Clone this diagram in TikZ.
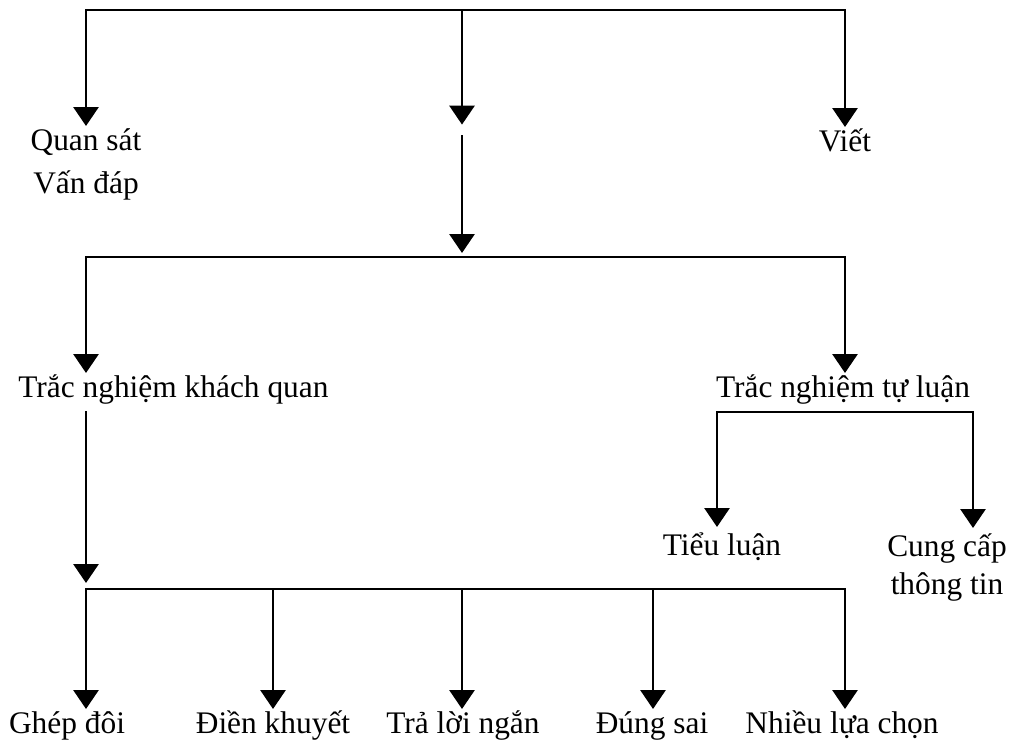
\documentclass[tikz,border=0pt]{standalone}
\usepackage{fontspec}
\setmainfont{Liberation Serif}
\usetikzlibrary{arrows.meta,positioning}

\begin{document}
\begin{tikzpicture}[
    x=0.5pt, y=-0.5pt,
    bar/.style={line width=1.45pt, line cap=rect},
    arrow/.style={line width=1.45pt, -{Triangle[width=12.5pt,length=9.5pt]}},
    lbl/.style={font=\fontsize{15.7pt}{20pt}\selectfont, inner sep=0pt, anchor=base, text height=11.8pt, text depth=7pt}
]
    \useasboundingbox (0,0) rectangle (1011,740);

    % Junctions
    \coordinate (t1) at (86,10);
    \coordinate (t2) at (462,10);
    \coordinate (t3) at (845,10);
    \coordinate (m1) at (86,257);
    \coordinate (m2) at (462,257);
    \coordinate (m3) at (845,257);
    \coordinate (r1) at (717,412);
    \coordinate (r2) at (973,412);
    \coordinate (b1) at (86,589);
    \coordinate (b2) at (273,589);
    \coordinate (b3) at (462,589);
    \coordinate (b4) at (653,589);
    \coordinate (b5) at (845,589);

    % First level
    \node[lbl] (quansat) at (86,150) {Quan sát};
    \node[lbl] (vandap) at (86,193) {Vấn đáp};
    \node[inner sep=0pt, minimum height=5pt, minimum width=0pt] (mid) at (462,130) {};
    \node[lbl] (viet) at (845,151) {Viết};

    % Second level
    \node[lbl, anchor=base west] (khach) at (18,397) {Trắc nghiệm khách quan};
    \node[lbl] (tuluan) at (843,397) {Trắc nghiệm tự luận};
    \node[lbl] (tieuluan) at (722,555) {Tiểu luận};
    \node[lbl] (cungcap) at (947,556) {Cung cấp};
    \node[lbl] (thongtin) at (947,594) {thông tin};

    % Third level
    \node[lbl] (ghep) at (67,733) {Ghép đôi};
    \node[lbl] (dien) at (273,733) {Điền khuyết};
    \node[lbl] (traloi) at (463,733) {Trả lời ngắn};
    \node[lbl] (dung) at (652,733) {Đúng sai};
    \node[lbl] (nhieu) at (842,733) {Nhiều lựa chọn};

    % Arrows - top
    \draw[bar] (t1) -- (t3);
    \draw[arrow] (t1) -- (t1 |- quansat.north);
    \draw[arrow] (t2) -- (mid.north);
    \draw[arrow] (t3) -- (t3 |- viet.north);
    \draw[arrow, shorten >=2pt] (mid.south) -- (m2);

    % Arrows - middle
    \draw[bar] (m1) -- (m3);
    \draw[arrow] (m1) -- (m1 |- khach.north);
    \draw[arrow] (m3) -- (m3 |- tuluan.north);
    \draw[bar] (r1) -- (r2);
    \draw[arrow, shorten >=2pt] (r1) -- (r1 |- tieuluan.north);
    \draw[arrow, shorten >=2pt] (r2) -- (r2 |- cungcap.north);
    \draw[arrow, shorten >=3pt] (b1 |- khach.south) -- (b1);

    % Arrows - bottom
    \draw[bar] (b1) -- (b5);
    \draw[arrow] (b1) -- (b1 |- ghep.north);
    \draw[arrow] (b2) -- (b2 |- dien.north);
    \draw[arrow] (b3) -- (b3 |- traloi.north);
    \draw[arrow] (b4) -- (b4 |- dung.north);
    \draw[arrow] (b5) -- (b5 |- nhieu.north);

\end{tikzpicture}
\end{document}
